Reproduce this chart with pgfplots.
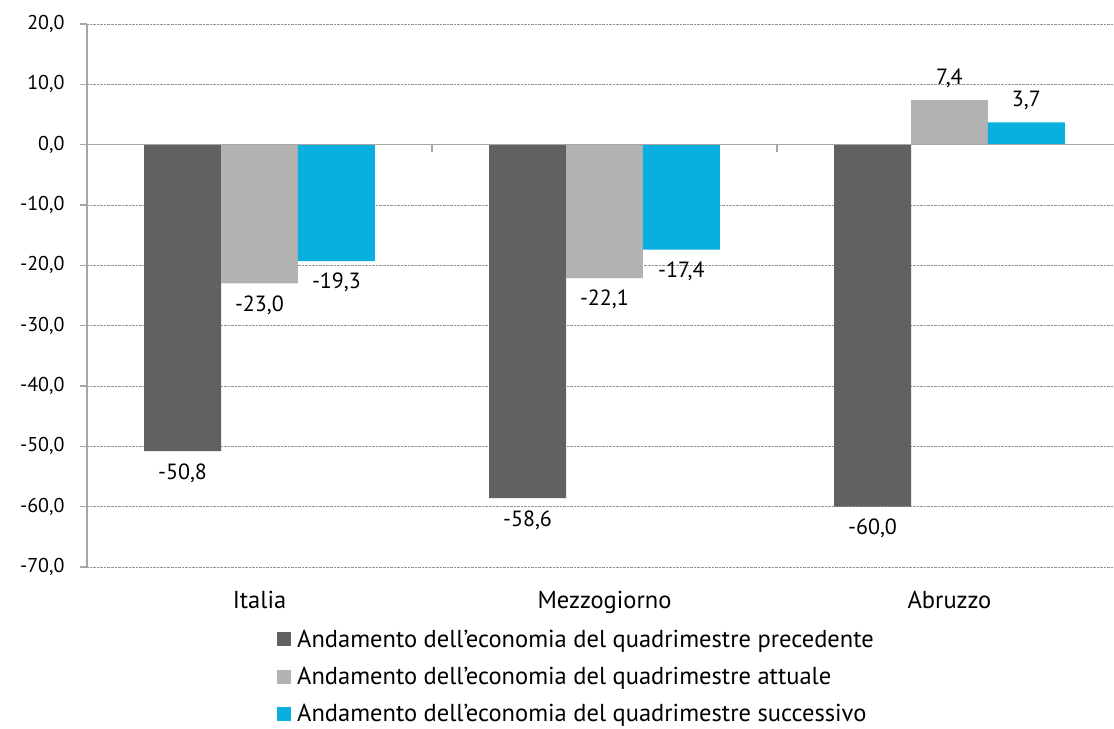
\documentclass[border=0pt]{standalone}
\usepackage{pgfplots}
\pgfplotsset{compat=1.18}
\usepackage{fontspec}
\setmainfont{PT Sans}
\definecolor{cdark}{HTML}{616161}
\definecolor{clight}{HTML}{B2B2B2}
\definecolor{cblue}{HTML}{09B0DF}
\definecolor{caxis}{HTML}{A6A6A6}
\begin{document}
\begin{tikzpicture}[font=\fontsize{20bp}{24bp}\selectfont]
\begin{axis}[
  at={(0,0)}, anchor=south west,
  scale only axis, width=1035bp, height=543bp,
  xmin=-0.5, xmax=2.5, ymin=-70, ymax=20,
  ytick={-70,-60,...,20},
  xtick={0,1,2}, xticklabels={Italia,Mezzogiorno,Abruzzo},
  axis y line*=left, axis x line*=bottom,
  x axis line style={draw=none},
  y axis line style={caxis, line width=1.2bp},
  x tick style={draw=none},
  y tick style={caxis, line width=1.2bp},
  tick align=outside, major tick length=7bp,
  ymajorgrids, major grid style={densely dotted, gray!85, line width=0.6bp},
  /pgf/number format/.cd, fixed, fixed zerofill, precision=1, use comma, assume math mode=true,
  /pgfplots/.cd,
  yticklabel style={xshift=-12bp, font=\fontsize{20bp}{24bp}\selectfont},
  xticklabel style={yshift=-14bp, font=\fontsize{24.5bp}{29bp}\selectfont},
  ybar, bar width=0.223,
  nodes near coords, point meta=y,
  nodes near coords align={vertical},
  every node near coord/.append style={font=\fontsize{22bp}{26bp}\selectfont, text=black, inner sep=12bp},
  legend style={at={(0.1836,-0.1115)}, anchor=north west, draw=none, fill=none,
    row sep=14.5bp, column sep=4bp, font=\fontsize{24.5bp}{29bp}\selectfont, inner sep=0pt},
  legend cell align=left,
  legend image code/.code={\fill[#1,draw=none] (0bp,-7bp) rectangle (14bp,7bp);},
  clip=false,
]
\addplot[fill=cdark, draw=none, bar shift=-0.223] coordinates {(0,-50.8) (1,-58.6) (2,-60.0)};
\addplot[fill=clight, draw=none, bar shift=0] coordinates {(0,-23.0) (1,-22.1) (2,7.4)};
\addplot[fill=cblue, draw=none, bar shift=0.223] coordinates {(0,-19.3) (1,-17.4) (2,3.7)};
\legend{Andamento dell'economia del quadrimestre precedente,
        Andamento dell'economia del quadrimestre attuale,
        Andamento dell'economia del quadrimestre successivo}
\draw[caxis, line width=1.5bp] (axis cs:-0.5,0) -- (axis cs:2.5,0);
\draw[caxis, line width=1.2bp] (axis cs:0.5,0) -- ([yshift=-7bp]axis cs:0.5,0);
\draw[caxis, line width=1.2bp] (axis cs:1.5,0) -- ([yshift=-7bp]axis cs:1.5,0);
\end{axis}
\pgfresetboundingbox
\path[use as bounding box] (-87bp,-162bp) rectangle (1027bp,567bp);
\end{tikzpicture}
\end{document}
